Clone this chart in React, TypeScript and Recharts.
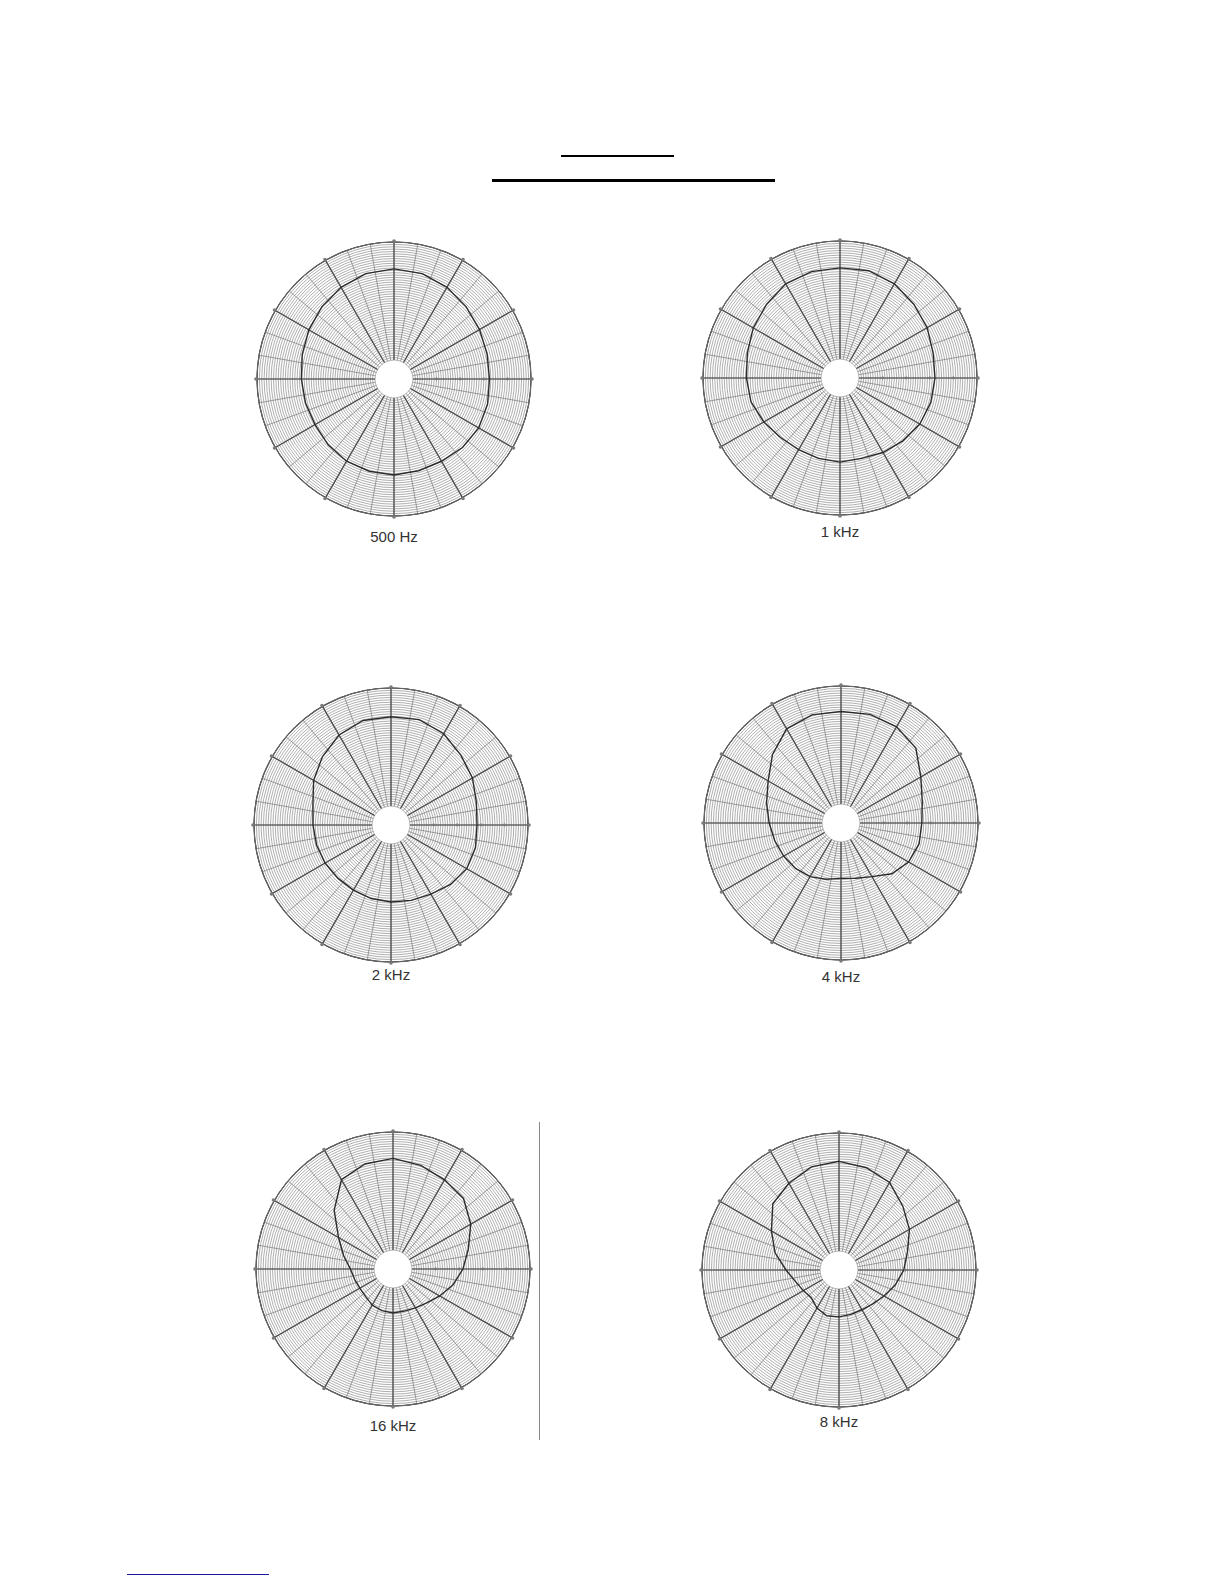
import { RadarChart, Radar, PolarGrid, PolarAngleAxis, PolarRadiusAxis } from 'recharts';

// measurement angles, clockwise from the front (top)
const ANGLES = [
    '0°', '15°', '30°', '45°', '60°', '75°', '90°', '105°', '120°', '135°', '150°', '165°',
    '180°', '195°', '210°', '225°', '240°', '255°', '270°', '285°', '300°', '315°', '330°', '345°',
];

// relative level in dB
const LEVEL_500HZ = [-0.7, -0.9, -1.6, -2.4, -3.1, -3.6, -3.8, -3.5, -3.3, -3.5, -3.9, -3.9, -3.7, -3.8, -3.9, -4.3, -4.7, -4.6, -4.4, -3.9, -3.2, -2.4, -1.6, -0.9];
const LEVEL_1KHZ = [-0.7, -0.5, -1.0, -1.9, -2.7, -3.6, -3.9, -4.1, -4.5, -5.2, -5.8, -6.4, -6.2, -6.4, -6.5, -6.2, -5.4, -4.5, -4.2, -3.7, -2.8, -2.0, -1.0, -0.7];
const LEVEL_2KHZ = [-1.1, -0.9, -1.7, -3.1, -4.1, -5.3, -5.8, -5.5, -5.5, -6.2, -7.1, -7.5, -7.7, -7.9, -8.1, -8.1, -7.9, -7.7, -7.5, -6.9, -5.1, -3.5, -2.0, -1.1];
const LEVEL_4KHZ = [-0.4, -0.2, -0.5, -1.6, -4.5, -6.2, -6.9, -6.9, -7.5, -8.8, -10.9, -11.9, -12.3, -11.7, -10.9, -10.4, -10.0, -9.5, -8.8, -7.7, -6.2, -3.5, -1.0, -0.3];
const LEVEL_8KHZ = [-1.0, -1.6, -2.6, -4.9, -6.8, -9.0, -10.3, -11.7, -13.0, -13.9, -14.3, -14.3, -14.1, -14.0, -14.7, -15.7, -15.3, -14.5, -12.8, -10.0, -7.5, -4.2, -2.8, -1.4];
const LEVEL_16KHZ = [-0.6, -1.3, -2.2, -2.9, -5.0, -7.5, -9.2, -10.9, -12.6, -13.9, -14.5, -14.8, -14.7, -14.9, -15.2, -15.8, -15.9, -15.6, -15.0, -13.2, -10.7, -6.4, -2.2, -1.0];

// ring grid of the chart paper: every 0.5 dB from -20 to +5
const LEVEL_MIN = -20;
const LEVEL_MAX = 5;
const RING_TICKS = Array.from({ length: (LEVEL_MAX - LEVEL_MIN) * 2 + 1 }, (_, i) => LEVEL_MIN + i * 0.5);
const FINE_SPOKES = Array.from({ length: 36 }, (_, i) => i * 10);
const MAJOR_SPOKES = Array.from({ length: 12 }, (_, i) => i * 30);

const SIZE = 300;
const OUTER = 137;
const INNER = 19;

const FONT = '"Liberation Sans", Arial, sans-serif';

const SpokeDot = (props: any) => {
    const { x, y, index } = props;
    if (index % 2 !== 0) return <g />;
    return <circle cx={x} cy={y} r={1.8} fill="#7a7a7a" />;
};

const LevelMark = (props: any) => {
    const { x, y, payload } = props;
    const v = payload.value;
    if (v % 5 !== 0 || v <= LEVEL_MIN || v >= LEVEL_MAX) return <g />;
    return <circle cx={x} cy={y} r={1.4} fill="#777" />;
};

interface PlotProps {
    levels: number[];
    cx: number;
    cy: number;
    label: string;
    labelY: number;
}

const PolarPlot = ({ levels, cx, cy, label, labelY }: PlotProps) => {
    const data = ANGLES.map((angle, i) => ({ angle, level: levels[i] }));
    return (
        <>
            <div style={{ position: 'absolute', left: cx - SIZE / 2, top: cy - SIZE / 2 }}>
                <RadarChart
                    width={SIZE}
                    height={SIZE}
                    data={data}
                    cx={SIZE / 2}
                    cy={SIZE / 2}
                    innerRadius={INNER}
                    outerRadius={OUTER}
                    margin={{ top: 0, right: 0, bottom: 0, left: 0 }}
                >
                    <PolarGrid gridType="circle" radialLines={false} stroke="#8c8c8c" strokeWidth={0.7} />
                    <PolarGrid gridType="circle" polarAngles={FINE_SPOKES} polarRadius={[OUTER]} stroke="#7a7a7a" strokeWidth={0.7} />
                    <PolarGrid gridType="circle" polarAngles={MAJOR_SPOKES} polarRadius={[OUTER]} stroke="#4a4a4a" strokeWidth={1.2} />
                    <PolarAngleAxis
                        dataKey="angle"
                        axisLineType="circle"
                        stroke="#666"
                        tickLine={false}
                        tickSize={1}
                        tick={SpokeDot}
                    />
                    <PolarRadiusAxis
                        type="number"
                        domain={[LEVEL_MIN, LEVEL_MAX]}
                        ticks={RING_TICKS}
                        angle={0}
                        axisLine={false}
                        tickLine={false}
                        tick={LevelMark}
                    />
                    <Radar
                        dataKey="level"
                        stroke="#2b2b2b"
                        strokeWidth={1.4}
                        fill="none"
                        fillOpacity={0}
                        dot={false}
                        isAnimationActive={false}
                    />
                </RadarChart>
            </div>
            <div
                style={{
                    position: 'absolute',
                    left: cx,
                    top: labelY,
                    transform: 'translate(-50%, -50%)',
                    fontFamily: FONT,
                    fontSize: 15,
                    color: '#333',
                    whiteSpace: 'nowrap',
                }}
            >
                {label}
            </div>
        </>
    );
};

const App = () => {
    return (
        <div style={{ position: 'absolute', left: 0, top: 0, width: 1224, height: 1584, background: '#fff' }}>
            {/* underlines of the heading */}
            <div style={{ position: 'absolute', left: 561, top: 155, width: 113, borderTop: '2.5px solid #000' }} />
            <div style={{ position: 'absolute', left: 492, top: 179, width: 283, borderTop: '3px solid #000' }} />

            <PolarPlot levels={LEVEL_500HZ} cx={394} cy={379} label="500 Hz" labelY={536} />
            <PolarPlot levels={LEVEL_1KHZ} cx={840} cy={378} label="1 kHz" labelY={531} />
            <PolarPlot levels={LEVEL_2KHZ} cx={391} cy={825} label="2 kHz" labelY={974} />
            <PolarPlot levels={LEVEL_4KHZ} cx={841} cy={823} label="4 kHz" labelY={976} />
            <PolarPlot levels={LEVEL_16KHZ} cx={393} cy={1269} label="16 kHz" labelY={1425} />
            <PolarPlot levels={LEVEL_8KHZ} cx={839} cy={1270} label="8 kHz" labelY={1421} />

            {/* separator next to the 16 kHz plot */}
            <div style={{ position: 'absolute', left: 539, top: 1122, width: 1, height: 318, background: '#888' }} />

            {/* footer link rule */}
            <div style={{ position: 'absolute', left: 127, top: 1574, width: 142, borderTop: '1.5px solid #1a1aa0' }} />
        </div>
    );
};

export default App;
